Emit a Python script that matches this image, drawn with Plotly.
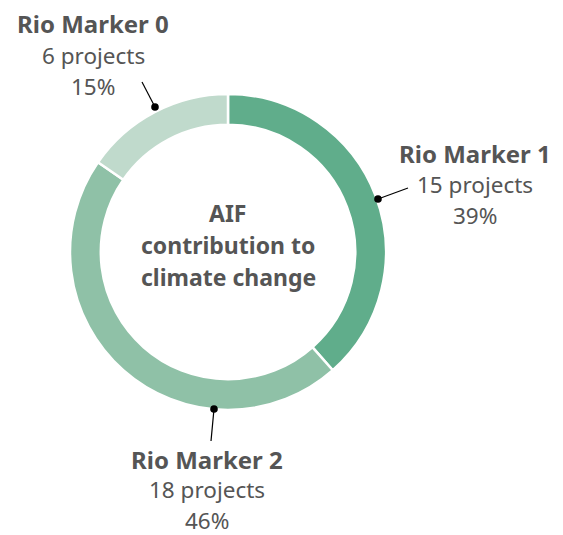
import math
import plotly.graph_objects as go

labels = ["Rio Marker 1", "Rio Marker 2", "Rio Marker 0"]
projects = [15, 18, 6]
percents = ["39%", "46%", "15%"]
colors = ["#60ad8b", "#8fc1a7", "#c0dacc"]

W, H = 563, 535
CX, CY, R = 228, 252, 158
HOLE = 0.805
TXT = "#555555"
FONT = "Noto Sans"

def px(x):
    return x / W

def py(y):
    return 1 - y / H

fig = go.Figure(go.Pie(
    labels=labels, values=projects, sort=False, direction="clockwise",
    rotation=0, hole=HOLE, textinfo="none", hoverinfo="label+value",
    marker=dict(colors=colors, line=dict(color="white", width=2.5)),
    domain=dict(x=[px(CX - R), px(CX + R)], y=[py(CY + R), py(CY - R)]),
    showlegend=False,
))

# label layout: text centre x, first-line y, line gap, dot xy, line end xy
label_layout = {
    2: dict(tx=93, ty=24, gap=31.3, dot=(155, 107), end=(142, 82)),
    0: dict(tx=475, ty=153, gap=31.3, dot=(378, 199), end=(408, 188)),
    1: dict(tx=207, ty=459, gap=30.5, dot=(214, 409), end=(211, 441)),
}
annotations = []
shapes = []
for i, lay in label_layout.items():
    lines = [(f"<b>{labels[i]}</b>", 24), (f"{projects[i]} projects", 22.5), (percents[i], 22.5)]
    for k, (t, s) in enumerate(lines):
        annotations.append(dict(
            x=px(lay["tx"]), y=py(lay["ty"] + k * lay["gap"]), xref="paper", yref="paper",
            text=t, showarrow=False, xanchor="center", yanchor="middle",
            font=dict(family=FONT, size=s, color=TXT)))
    dx, dy = lay["dot"]
    ex, ey = lay["end"]
    shapes.append(dict(type="line", xref="paper", yref="paper",
                       x0=px(dx), y0=py(dy), x1=px(ex), y1=py(ey),
                       line=dict(color="black", width=1.2)))
    rr = 3.8
    shapes.append(dict(type="circle", xref="paper", yref="paper",
                       x0=px(dx - rr), y0=py(dy + rr), x1=px(dx + rr), y1=py(dy - rr),
                       fillcolor="black", line=dict(color="black", width=0)))

center_lines = ["AIF", "contribution to", "climate change"]
for k, t in enumerate(center_lines):
    annotations.append(dict(
        x=px(CX), y=py(213 + k * 32), xref="paper", yref="paper",
        text=f"<b>{t}</b>", showarrow=False, xanchor="center", yanchor="middle",
        font=dict(family=FONT, size=23, color=TXT)))

fig.update_layout(
    width=W, height=H, margin=dict(l=0, r=0, t=0, b=0),
    paper_bgcolor="white", plot_bgcolor="white",
    annotations=annotations, shapes=shapes,
)
fig.write_html("out.html", config={"displayModeBar": False},
               post_script="document.body.style.margin='0';document.body.style.overflow='hidden';")
